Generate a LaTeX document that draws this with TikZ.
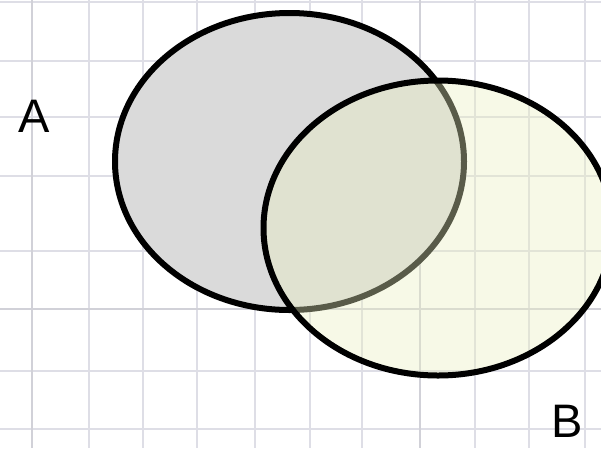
\documentclass[tikz,border=0pt]{standalone}
\usepackage{fontspec}
\setmainfont{Liberation Sans}
\definecolor{gridLilac}{RGB}{222,222,230}
\definecolor{setGray}{RGB}{218,218,218}
\definecolor{setYellow}{RGB}{234,240,193}

\begin{document}
\begin{tikzpicture}[x=1pt, y=-1pt,
  grid/.style={draw=gridLilac, line width=1.5pt},
  gridb/.style={draw=gridLilac!94!black, line width=2.4pt},
  setA/.style={draw=black, fill=setGray, line width=6pt},
  setB/.style={draw=black, fill=setYellow, fill opacity=0.38, line width=6pt},
  lbl/.style={font=\fontsize{47}{50}\selectfont, inner sep=0pt, anchor=base},
]
  \useasboundingbox (0,0) rectangle (601,448);
  \clip (0,0) rectangle (601,448);

  % graph paper
  \foreach \gx in {89,143,197,255,310,362,475,529,585}
    \draw[grid] (\gx,0) -- (\gx,448);
  \foreach \gy in {2,61,117,176,251,371,429}
    \draw[grid] (0,\gy) -- (601,\gy);
  \draw[gridb] (32,0) -- (32,448);
  \draw[gridb] (420,0) -- (420,448);
  \draw[gridb] (0,309) -- (601,309);

  % the two sets
  \coordinate (cA) at (289.5,161.5);
  \coordinate (cB) at (438,228);
  \draw[setA] (cA) ellipse [x radius=174.5, y radius=148.5];
  \draw[setB] (cB) ellipse [x radius=174.5, y radius=147.5];

  % labels
  \node[lbl] (labA) at (34,132) {A};
  \node[lbl] (labB) at (567,437) {B};
\end{tikzpicture}
\end{document}
